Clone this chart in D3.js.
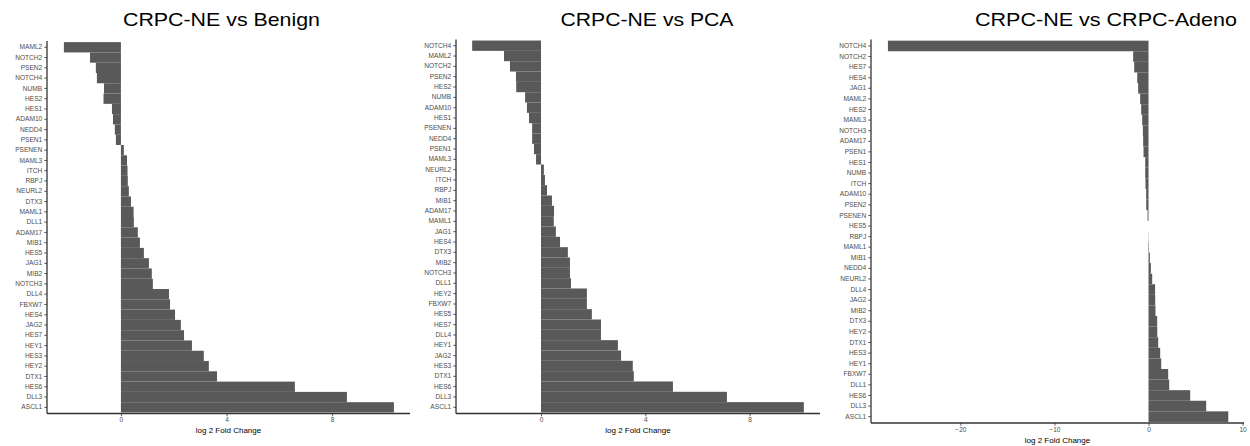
<!DOCTYPE html>
<html>
<head>
<meta charset="utf-8">
<script src="https://cdn.jsdelivr.net/npm/d3@7"></script>
<style>
  html, body { margin: 0; padding: 0; background: #fff; }
  svg { display: block; font-family: "Liberation Sans", Arial, sans-serif; }
</style>
</head>
<body>
<svg id="chart" width="1250" height="446"></svg>
<script>
// Gene order (top to bottom) and log2 fold changes for each comparison
const genesBenign = ["MAML2","NOTCH2","PSEN2","NOTCH4","NUMB","HES2","HES1","ADAM10","NEDD4","PSEN1",
  "PSENEN","MAML3","ITCH","RBPJ","NEURL2","DTX3","MAML1","DLL1","ADAM17","MIB1","HES5","JAG1","MIB2",
  "NOTCH3","DLL4","FBXW7","HES4","JAG2","HES7","HEY1","HES3","HEY2","DTX1","HES6","DLL3","ASCL1"];
const lfcBenign = [-2.16,-1.17,-0.95,-0.91,-0.64,-0.66,-0.34,-0.30,-0.23,-0.19,
  0.11,0.23,0.25,0.26,0.30,0.38,0.48,0.49,0.64,0.72,0.87,1.06,1.17,
  1.21,1.82,1.86,2.05,2.27,2.39,2.69,3.14,3.33,3.64,6.59,8.56,10.34];

const genesPCA = ["NOTCH4","MAML2","NOTCH2","PSEN2","HES2","NUMB","ADAM10","HES1","PSENEN","NEDD4",
  "PSEN1","MAML3","NEURL2","ITCH","RBPJ","MIB1","ADAM17","MAML1","JAG1","HES4","DTX3","MIB2","NOTCH3",
  "DLL1","HEY2","FBXW7","HES5","HES7","DLL4","HEY1","JAG2","HES3","DTX1","HES6","DLL3","ASCL1"];
const lfcPCA = [-2.64,-1.42,-1.19,-0.96,-0.95,-0.61,-0.54,-0.46,-0.34,-0.34,
  -0.27,-0.19,0.11,0.15,0.23,0.42,0.50,0.49,0.57,0.73,1.03,1.11,1.11,
  1.15,1.76,1.76,1.95,2.30,2.30,2.95,3.07,3.52,3.56,5.06,7.13,10.08];

const genesAdeno = ["NOTCH4","NOTCH2","HES7","HES4","JAG1","MAML2","HES2","MAML3","NOTCH3","ADAM17",
  "PSEN1","HES1","NUMB","ITCH","ADAM10","PSEN2","PSENEN","HES5","RBPJ","MAML1","MIB1","NEDD4","NEURL2",
  "DLL4","JAG2","MIB2","DTX3","HEY2","DTX1","HES3","HEY1","FBXW7","DLL1","HES6","DLL3","ASCL1"];
const lfcAdeno = [-27.7,-1.63,-1.52,-1.20,-1.10,-0.89,-0.78,-0.67,-0.60,-0.57,
  -0.53,-0.35,-0.35,-0.32,-0.25,-0.24,-0.10,0.0,0.02,0.05,0.14,0.25,0.39,
  0.70,0.71,0.74,0.92,0.93,1.03,1.24,1.35,2.09,2.20,4.43,6.13,8.48];

const titles = ["CRPC-NE vs Benign", "CRPC-NE vs PCA", "CRPC-NE vs CRPC-Adeno"];
const xTicksSmall = [0, 4, 8];
const xTicksWide = [-20, -10, 0, 10];
const xLabel = "log 2 Fold Change";

// Panel geometry
const panels = [
  { title: titles[0], genes: genesBenign, lfc: lfcBenign, domain: [-2.8, 10.95],
    x0: 47, x1: 410, top: 41.1, bottom: 413.5, ticks: xTicksSmall, titleX: 221.5, titleW: 197 },
  { title: titles[1], genes: genesPCA, lfc: lfcPCA, domain: [-3.26, 10.7],
    x0: 456, x1: 820, top: 39.5, bottom: 413.5, ticks: xTicksSmall, titleX: 647, titleW: 173 },
  { title: titles[2], genes: genesAdeno, lfc: lfcAdeno, domain: [-29.5, 10.15],
    x0: 871, x1: 1244, top: 39.6, bottom: 423, ticks: xTicksWide, titleX: 1106, titleW: 262 }
];

const svg = d3.select("#chart");
const barColor = "#595959";
const axisColor = "#333333";
const tickText = "#4d4d4d";

panels.forEach(p => {
  const g = svg.append("g");
  const x = d3.scaleLinear().domain(p.domain).range([p.x0, p.x1]);
  const y = d3.scaleBand().domain(p.genes).range([p.top, p.bottom])
    .paddingInner(0).paddingOuter(0.1);

  // bars
  g.selectAll("rect.bar").data(p.genes).join("rect")
    .attr("class", "bar")
    .attr("x", (d, i) => x(Math.min(0, p.lfc[i])))
    .attr("width", (d, i) => Math.abs(x(p.lfc[i]) - x(0)))
    .attr("y", d => y(d))
    .attr("height", y.bandwidth())
    .attr("fill", barColor);

  // y axis
  const yAxis = d3.axisLeft(y).tickSize(2.75).tickPadding(2);
  const ya = g.append("g").attr("transform", `translate(${p.x0},0)`).call(yAxis);
  ya.select(".domain").attr("d", `M0,${p.top}V${p.bottom}`)
    .attr("stroke", axisColor).attr("stroke-width", 1.3);
  ya.selectAll(".tick line").attr("stroke", axisColor).attr("stroke-width", 0.8);
  ya.selectAll(".tick text").attr("fill", tickText).attr("font-size", 6.6)
    .attr("font-family", "Liberation Sans, Arial, sans-serif");

  // x axis
  const xAxis = d3.axisBottom(x).tickValues(p.ticks).tickSize(2.75).tickPadding(1.5)
    .tickFormat(d => d < 0 ? "\u2212" + Math.abs(d) : String(d));
  const xa = g.append("g").attr("transform", `translate(0,${p.bottom})`).call(xAxis);
  xa.select(".domain").attr("d", `M${p.x0},0H${p.x1}`)
    .attr("stroke", axisColor).attr("stroke-width", 1.3);
  xa.selectAll(".tick line").attr("stroke", axisColor).attr("stroke-width", 0.8);
  xa.selectAll(".tick text").attr("fill", tickText).attr("font-size", 6.6)
    .attr("font-family", "Liberation Sans, Arial, sans-serif");

  // axis title
  g.append("text")
    .attr("x", (p.x0 + p.x1) / 2)
    .attr("y", p.bottom + 19.5)
    .attr("text-anchor", "middle")
    .attr("font-size", 8)
    .attr("fill", "#000")
    .text(xLabel);

  // panel title
  g.append("text")
    .attr("x", p.titleX)
    .attr("y", 26)
    .attr("text-anchor", "middle")
    .attr("font-size", 19)
    .attr("textLength", p.titleW)
    .attr("lengthAdjust", "spacingAndGlyphs")
    .attr("fill", "#000")
    .text(p.title);
});
</script>
</body>
</html>
